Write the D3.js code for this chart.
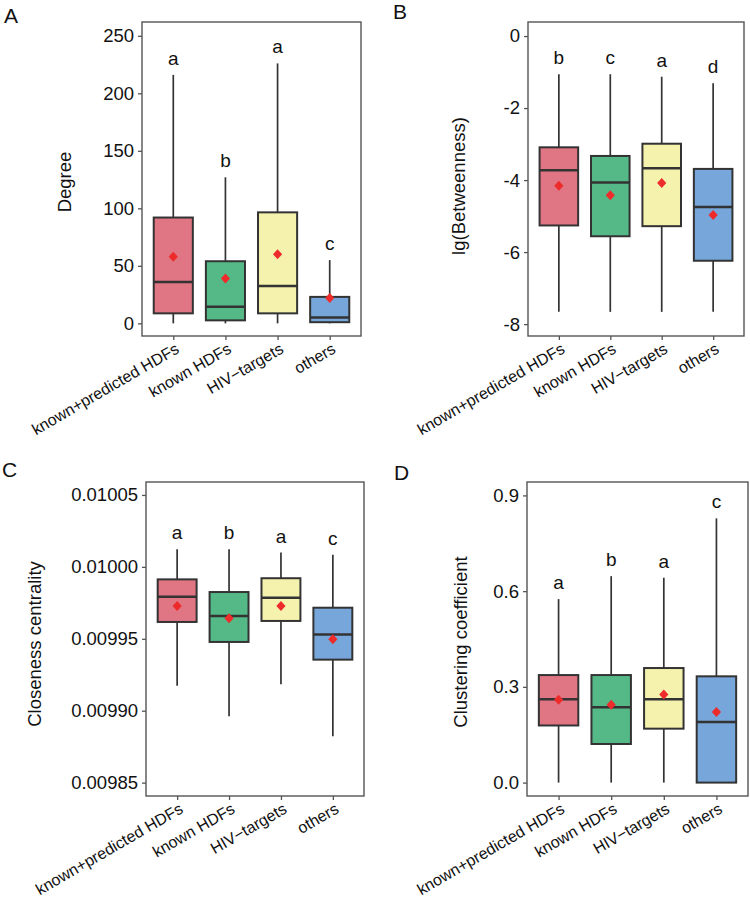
<!DOCTYPE html>
<html>
<head>
<meta charset="utf-8">
<script src="https://cdn.jsdelivr.net/npm/d3@7/dist/d3.min.js"></script>
<style>
  html, body { margin: 0; padding: 0; background: #fff; }
  svg { display: block; font-family: "Liberation Sans", Arial, Helvetica, sans-serif; }
</style>
</head>
<body>
<svg id="chart" width="750" height="899"></svg>
<script>
// ---------- data ----------
const categories = ["known+predicted HDFs", "known HDFs", "HIV\u2212targets", "others"];
const fills = ["#E07584", "#55B987", "#F5F2AE", "#77A6DA"];

// box stats: [lower whisker, Q1, median, Q3, upper whisker]
const degreeBox = [[0, 8.7, 36, 92, 216], [0, 2.6, 14.5, 54, 127], [0, 8.7, 32.5, 96.5, 226], [0, 1, 5, 23, 55]];
const degreeMean = [58, 39, 60, 22];
const degreeLetters = ["a", "b", "a", "c"];
const degreeTicks = [0, 50, 100, 150, 200, 250];

const betweenBox = [[-7.66, -5.26, -3.73, -3.09, -1.06], [-7.66, -5.56, -4.07, -3.33, -1.06], [-7.66, -5.28, -3.67, -2.99, -1.13], [-7.66, -6.24, -4.75, -3.69, -1.31]];
const betweenMean = [-4.16, -4.42, -4.08, -4.97];
const betweenLetters = ["b", "c", "a", "d"];
const betweenTicks = [-8, -6, -4, -2, 0];

const closeBox = [[0.0099174, 0.0099617, 0.0099793, 0.0099913, 0.0100122], [0.0098961, 0.0099478, 0.0099659, 0.0099825, 0.0100122], [0.0099184, 0.0099624, 0.0099786, 0.0099921, 0.0100099], [0.0098822, 0.0099355, 0.0099529, 0.0099716, 0.0100085]];
const closeMean = [0.0099728, 0.0099643, 0.0099728, 0.0099497];
const closeLetters = ["a", "b", "a", "c"];
const closeTicks = [0.00985, 0.00990, 0.00995, 0.01000, 0.01005];

const clustBox = [[0, 0.179, 0.261, 0.337, 0.575], [0, 0.121, 0.236, 0.337, 0.647], [0, 0.169, 0.261, 0.359, 0.642], [0, 0, 0.19, 0.333, 0.828]];
const clustMean = [0.26, 0.244, 0.276, 0.221];
const clustLetters = ["a", "b", "a", "c"];
const clustTicks = [0.0, 0.3, 0.6, 0.9];

// ---------- layout ----------
const panels = [
  { tag: "A", tagX: 4, tagY: 23, title: "Degree", titleX: 71, titleY: 182,
    box: degreeBox, mean: degreeMean, letters: degreeLetters, ticks: degreeTicks,
    fmt: d3.format("d"), domain: [-11, 262], x0: 142, x1: 361, y0: 22, y1: 336 },
  { tag: "B", tagX: 393, tagY: 19, title: "lg(Betweenness)", titleX: 465, titleY: 186,
    box: betweenBox, mean: betweenMean, letters: betweenLetters, ticks: betweenTicks,
    fmt: d => d3.format("d")(d).replace("\u2212", "-"), domain: [-8.33, 0.39], x0: 528, x1: 744, y0: 22, y1: 336 },
  { tag: "C", tagX: 2, tagY: 477, title: "Closeness centrality", titleX: 41, titleY: 644,
    box: closeBox, mean: closeMean, letters: closeLetters, ticks: closeTicks,
    fmt: d3.format(".5f"), domain: [0.0098407, 0.0100590], x0: 146, x1: 364, y0: 482, y1: 796 },
  { tag: "D", tagX: 394, tagY: 480, title: "Clustering coefficient", titleX: 467, titleY: 642,
    box: clustBox, mean: clustMean, letters: clustLetters, ticks: clustTicks,
    fmt: d3.format(".1f"), domain: [-0.042, 0.942], x0: 527, x1: 748, y0: 482, y1: 796 }
];

const svg = d3.select("#chart");
const darkStroke = "#333333";
const frameStroke = "#555555";

panels.forEach(p => {
  const g = svg.append("g");
  const x = d3.scalePoint().domain(categories).range([p.x0, p.x1]).padding(0.6);
  const y = d3.scaleLinear().domain(p.domain).range([p.y1, p.y0]);
  const bw = x.step() * 0.75;

  // panel tag
  g.append("text").attr("x", p.tagX).attr("y", p.tagY)
    .attr("font-size", 21).attr("fill", "#111").text(p.tag);

  // y axis
  const yAxis = d3.axisLeft(y).tickValues(p.ticks).tickFormat(p.fmt).tickSize(4).tickPadding(4);
  const ya = g.append("g").attr("transform", `translate(${p.x0},0)`).call(yAxis);
  ya.select(".domain").remove();
  ya.selectAll(".tick line").attr("stroke", frameStroke).attr("stroke-width", 1.3);
  ya.selectAll(".tick text").attr("font-size", 18.5).attr("fill", "#111")
    .attr("font-family", "'Liberation Sans', Arial, sans-serif");

  // x axis
  const xAxis = d3.axisBottom(x).tickSize(4).tickFormat("");
  const xa = g.append("g").attr("transform", `translate(0,${p.y1})`).call(xAxis);
  xa.select(".domain").remove();
  xa.selectAll(".tick line").attr("stroke", frameStroke).attr("stroke-width", 1.3);

  // rotated x labels
  g.selectAll("text.xl").data(categories).enter().append("text")
    .attr("class", "xl")
    .attr("transform", d => `translate(${x(d) + 7},${p.y1 + 16}) rotate(-30)`)
    .attr("text-anchor", "end")
    .attr("font-size", 16).attr("fill", "#111")
    .text(d => d);

  // y title
  g.append("text")
    .attr("transform", `translate(${p.titleX},${p.titleY}) rotate(-90)`)
    .attr("text-anchor", "middle").attr("font-size", 18.5).attr("fill", "#111")
    .text(p.title);

  // boxes
  const bx = g.selectAll("g.bx").data(categories).enter().append("g").attr("class", "bx");
  // whiskers
  bx.append("line")
    .attr("x1", d => x(d)).attr("x2", d => x(d))
    .attr("y1", (d, i) => y(p.box[i][3])).attr("y2", (d, i) => y(p.box[i][4]))
    .attr("stroke", darkStroke).attr("stroke-width", 1.7);
  bx.append("line")
    .attr("x1", d => x(d)).attr("x2", d => x(d))
    .attr("y1", (d, i) => y(p.box[i][1])).attr("y2", (d, i) => y(p.box[i][0]))
    .attr("stroke", darkStroke).attr("stroke-width", 1.7);
  // box
  bx.append("rect")
    .attr("x", d => x(d) - bw / 2).attr("width", bw)
    .attr("y", (d, i) => y(p.box[i][3]))
    .attr("height", (d, i) => y(p.box[i][1]) - y(p.box[i][3]))
    .attr("fill", (d, i) => fills[i])
    .attr("stroke", darkStroke).attr("stroke-width", 2);
  // median
  bx.append("line")
    .attr("x1", d => x(d) - bw / 2).attr("x2", d => x(d) + bw / 2)
    .attr("y1", (d, i) => y(p.box[i][2])).attr("y2", (d, i) => y(p.box[i][2]))
    .attr("stroke", darkStroke).attr("stroke-width", 2.5);
  // mean diamond
  bx.append("path")
    .attr("d", "M0,-5L4.6,0L0,5L-4.6,0Z")
    .attr("transform", (d, i) => `translate(${x(d)},${y(p.mean[i])})`)
    .attr("fill", "#EE2B2B");
  // letters
  bx.append("text")
    .attr("x", d => x(d))
    .attr("y", (d, i) => y(p.box[i][4]) - 10)
    .attr("text-anchor", "middle").attr("font-size", 19).attr("fill", "#111")
    .text((d, i) => p.letters[i]);

  // frame
  g.append("rect")
    .attr("x", p.x0).attr("y", p.y0)
    .attr("width", p.x1 - p.x0).attr("height", p.y1 - p.y0)
    .attr("fill", "none").attr("stroke", frameStroke).attr("stroke-width", 1.4);
});
</script>
</body>
</html>
